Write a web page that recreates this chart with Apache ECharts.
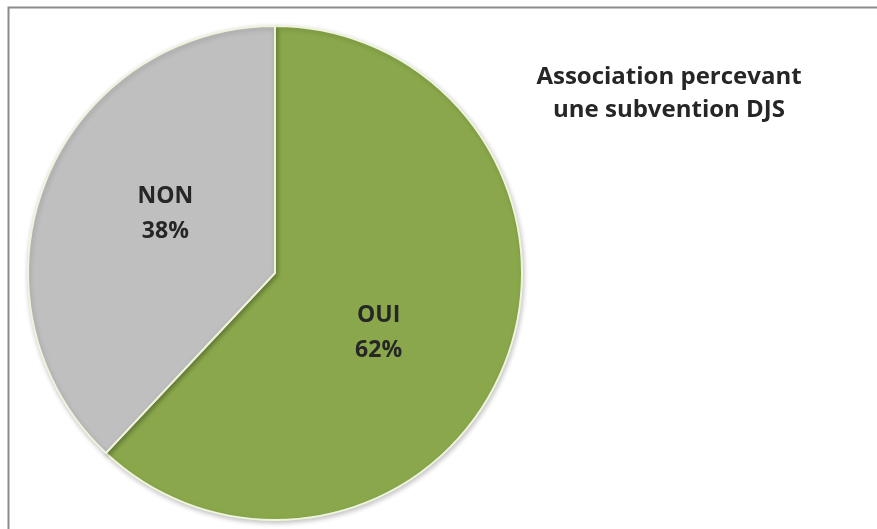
<!DOCTYPE html>
<html>
<head>
<meta charset="utf-8">
<script src="https://cdn.jsdelivr.net/npm/echarts@6/dist/echarts.min.js"></script>
<style>
  html, body { margin: 0; padding: 0; background: #ffffff; }
  #chart { width: 877px; height: 529px; }
</style>
</head>
<body>
<div id="chart"></div>
<script>
// Share of associations receiving a DJS grant
const categories = ['OUI', 'NON'];
const percentages = [62, 38];
const sliceColors = ['#8aa84b', '#bfbfbf'];
const titleLines = ['Association percevant', 'une subvention DJS'];

const chart = echarts.init(document.getElementById('chart'), null, { renderer: 'canvas' });

const fontFamily = '"Open Sans", Lato, sans-serif';

// small nudges so each label sits where it reads best inside its slice
const labelOffsets = [[-14, 13], [8, -12]];

chart.setOption({
  animation: false,
  backgroundColor: '#ffffff',
  title: {
    text: titleLines.join('\n'),
    left: 664,
    top: 56,
    textAlign: 'center',
    textStyle: {
      fontFamily: fontFamily,
      fontWeight: 'bold',
      fontSize: 24,
      lineHeight: 33,
      color: '#262626'
    }
  },
  graphic: [
    {
      type: 'rect',
      shape: { x: 8.5, y: 7.5, width: 900, height: 540 },
      style: { fill: 'none', stroke: '#8c8c8c', lineWidth: 2 },
      silent: true,
      z: 10
    }
  ],
  series: [
    {
      type: 'pie',
      center: [275, 273],
      radius: [0, 247],
      startAngle: 90,
      clockwise: true,
      data: categories.map((name, i) => ({
        name: name,
        value: percentages[i],
        itemStyle: { color: sliceColors[i] },
        label: { offset: labelOffsets[i] }
      })),
      itemStyle: {
        borderColor: '#eef5dc',
        borderWidth: 2,
        shadowBlur: 5,
        shadowColor: 'rgba(0,0,0,0.22)',
        shadowOffsetX: 1,
        shadowOffsetY: 2
      },
      label: {
        show: true,
        position: 'inner',
        formatter: p => p.name + '\n' + p.value + '%',
        fontFamily: fontFamily,
        fontWeight: 'bold',
        fontSize: 23,
        lineHeight: 35,
        color: '#262626'
      },
      labelLine: { show: false },
      emphasis: { disabled: true }
    }
  ]
});
</script>
</body>
</html>
